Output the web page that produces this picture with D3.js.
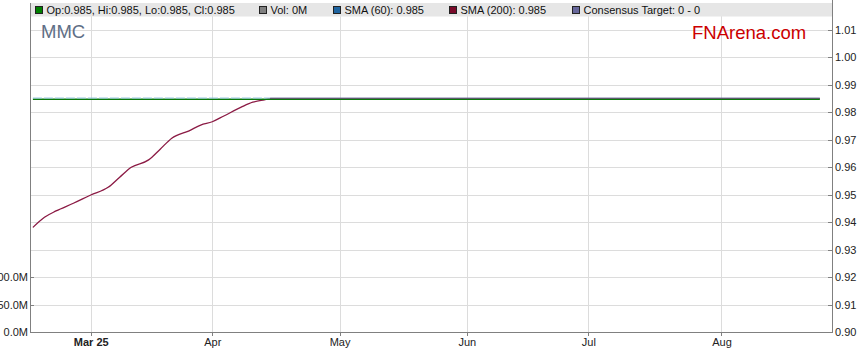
<!DOCTYPE html>
<html>
<head>
<meta charset="utf-8">
<script src="https://cdn.jsdelivr.net/npm/d3@7"></script>
<style>
body { margin: 0; background: #fff; }
svg { display: block; font-family: Arial, "Liberation Sans", sans-serif; }
</style>
</head>
<body>
<div id="chart"></div>
<script>
// trading days (weekdays) shown on the x axis
const firstDay = "2025-02-17", lastDay = "2025-08-26";
const monthTicks = ["2025-03-03", "2025-04-01", "2025-05-01", "2025-06-02", "2025-07-01", "2025-08-01"];
const monthLabels = ["Mar 25", "Apr", "May", "Jun", "Jul", "Aug"];

const priceTicks = [0.90, 0.91, 0.92, 0.93, 0.94, 0.95, 0.96, 0.97, 0.98, 0.99, 1.00, 1.01];
const volTicks = [0, 50e6, 100e6];

// series
const closeDates = ["2025-02-17", "2025-08-26"];
const closeValues = [0.985, 0.985];
const sma60Dates = ["2025-02-17", "2025-04-15"];
const sma60Values = [0.985, 0.985];
const targetDates = ["2025-04-15", "2025-08-26"];
const targetValues = [0.985, 0.985];
const sma200Dates = ["2025-02-17", "2025-02-19", "2025-02-21", "2025-02-26", "2025-03-03", "2025-03-06",
    "2025-03-10", "2025-03-12", "2025-03-17", "2025-03-19", "2025-03-21", "2025-03-26", "2025-03-28",
    "2025-04-01", "2025-04-03", "2025-04-08", "2025-04-10", "2025-04-14", "2025-04-15", "2025-08-26"];
const sma200Values = [0.9381, 0.9418, 0.9441, 0.9469, 0.9499, 0.9527,
    0.9564, 0.9600, 0.9627, 0.9666, 0.9706, 0.9733, 0.9754,
    0.9766, 0.9787, 0.9819, 0.9837, 0.9846, 0.9850, 0.9850];

const legendLabels = ["Op:0.985, Hi:0.985, Lo:0.985, Cl:0.985", "Vol: 0M", "SMA (60): 0.985", "SMA (200): 0.985", "Consensus Target: 0 - 0"];
const legendColors = ["#008000", "#808080", "#1f64a0", "#7a0a2a", "#66669a"];

const width = 859, height = 363;
const margin = {top: 3, right: 27, bottom: 31, left: 30};

const svg = d3.select("#chart").append("svg")
    .attr("width", width)
    .attr("height", height);

const parse = d3.utcParse("%Y-%m-%d");
const fmt = d3.utcFormat("%Y-%m-%d");
const days = d3.utcDay.range(parse(firstDay), d3.utcDay.offset(parse(lastDay), 1))
    .filter(d => d.getUTCDay() % 6 !== 0)
    .map(fmt);
const dayIndex = new Map(days.map((d, i) => [d, i]));

const x = d3.scaleLinear()
    .domain([-0.5, days.length + 1.1])
    .range([margin.left, width - margin.right]);
const y = d3.scaleLinear()
    .domain([0.90, 0.90 + (332 - margin.top) / 2745])
    .range([height - margin.bottom, margin.top]);
const yVol = d3.scaleLinear()
    .domain([0, 100e6 * (332 - margin.top) / 55])
    .range([height - margin.bottom, margin.top]);

const plotW = width - margin.right - margin.left;
const bottom = height - margin.bottom;

// grid
svg.append("g")
    .selectAll("line.h")
    .data(priceTicks)
    .join("line")
    .attr("x1", margin.left).attr("x2", width - margin.right)
    .attr("y1", d => Math.round(y(d)) + 0.5).attr("y2", d => Math.round(y(d)) + 0.5)
    .attr("stroke", "#dcdcdc");
svg.append("g")
    .selectAll("line.v")
    .data(monthTicks)
    .join("line")
    .attr("x1", d => Math.round(x(dayIndex.get(d))) + 0.5).attr("x2", d => Math.round(x(dayIndex.get(d))) + 0.5)
    .attr("y1", margin.top).attr("y2", bottom)
    .attr("stroke", "#dcdcdc");

// lines
const line = d3.line()
    .x(d => x(dayIndex.get(d[0])))
    .y(d => y(d[1]));

svg.append("path")
    .datum(d3.zip(sma200Dates, sma200Values))
    .attr("fill", "none")
    .attr("stroke", "#8b1a44")
    .attr("stroke-width", 1.3)
    .attr("d", line.curve(d3.curveMonotoneX)(d3.zip(sma200Dates, sma200Values)));
line.curve(d3.curveLinear);

svg.append("path")
    .datum(d3.zip(closeDates, closeValues))
    .attr("fill", "none")
    .attr("stroke", "#0a7a0a")
    .attr("stroke-width", 1.4)
    .attr("transform", "translate(0,0.6)")
    .attr("d", line);

svg.append("path")
    .datum(d3.zip(sma60Dates, sma60Values))
    .attr("fill", "none")
    .attr("stroke", "#8cc0dc")
    .attr("stroke-width", 1)
    .attr("stroke-dasharray", "9,2")
    .attr("transform", "translate(0,-0.6)")
    .attr("d", line);

svg.append("path")
    .datum(d3.zip(targetDates, targetValues))
    .attr("fill", "none")
    .attr("stroke", "#6a6a9c")
    .attr("stroke-width", 1)
    .attr("transform", "translate(0,-0.6)")
    .attr("d", line);

// legend bar
svg.append("rect")
    .attr("x", margin.left).attr("y", margin.top)
    .attr("width", plotW).attr("height", 13.5)
    .attr("fill", "#e6e6e6");

const legendX = [35, 259, 333, 449, 572];
const leg = svg.append("g")
    .selectAll("g")
    .data(legendLabels)
    .join("g")
    .attr("transform", (d, i) => `translate(${legendX[i]},0)`);
leg.append("rect")
    .attr("x", 0.5).attr("y", 6.5)
    .attr("width", 7).attr("height", 7)
    .attr("fill", (d, i) => legendColors[i])
    .attr("stroke", "#222")
    .attr("stroke-width", 1);
leg.append("text")
    .attr("x", 11.5).attr("y", 14)
    .attr("font-size", 11)
    .attr("fill", "#111")
    .text(d => d);

// axes frame
svg.append("line")
    .attr("x1", margin.left + 0.5).attr("x2", margin.left + 0.5)
    .attr("y1", margin.top).attr("y2", bottom + 0.5)
    .attr("stroke", "#808080");
svg.append("line")
    .attr("x1", width - margin.right + 0.5).attr("x2", width - margin.right + 0.5)
    .attr("y1", 0).attr("y2", bottom + 0.5)
    .attr("stroke", "#808080");
svg.append("line")
    .attr("x1", margin.left).attr("x2", width - margin.right + 1)
    .attr("y1", bottom + 0.5).attr("y2", bottom + 0.5)
    .attr("stroke", "#808080");

// right price axis
const rightAxis = svg.append("g");
rightAxis.selectAll("line")
    .data(priceTicks)
    .join("line")
    .attr("x1", width - margin.right - 4).attr("x2", width - margin.right + 1)
    .attr("y1", d => Math.round(y(d)) + 0.5).attr("y2", d => Math.round(y(d)) + 0.5)
    .attr("stroke", "#808080");
rightAxis.selectAll("text")
    .data(priceTicks)
    .join("text")
    .attr("x", width - margin.right + 3)
    .attr("y", d => Math.round(y(d)) + 4)
    .attr("font-size", 11)
    .attr("fill", "#222")
    .text(d => d3.format(".2f")(d));

// left volume axis (labels run off the left edge, as in the source)
const leftAxis = svg.append("g");
leftAxis.selectAll("line")
    .data(volTicks)
    .join("line")
    .attr("x1", margin.left).attr("x2", margin.left + 4)
    .attr("y1", d => Math.round(yVol(d)) + 0.5).attr("y2", d => Math.round(yVol(d)) + 0.5)
    .attr("stroke", "#808080");
leftAxis.selectAll("text")
    .data(volTicks)
    .join("text")
    .attr("x", margin.left - 2)
    .attr("y", d => Math.round(yVol(d)) + 4)
    .attr("text-anchor", "end")
    .attr("font-size", 11)
    .attr("fill", "#222")
    .text(d => (d / 1e6).toFixed(1) + "M");

// x axis
const xAxis = svg.append("g");
xAxis.selectAll("line")
    .data(monthTicks)
    .join("line")
    .attr("x1", d => Math.round(x(dayIndex.get(d))) + 0.5).attr("x2", d => Math.round(x(dayIndex.get(d))) + 0.5)
    .attr("y1", bottom).attr("y2", bottom + 4)
    .attr("stroke", "#808080");
xAxis.selectAll("text")
    .data(monthTicks)
    .join("text")
    .attr("x", d => x(dayIndex.get(d)) + 0.5)
    .attr("y", bottom + 14)
    .attr("text-anchor", "middle")
    .attr("font-size", 11)
    .attr("font-weight", (d, i) => i === 0 ? "bold" : "normal")
    .attr("fill", "#222")
    .text((d, i) => monthLabels[i]);

// titles
svg.append("text")
    .attr("x", 41).attr("y", 38)
    .attr("font-size", 18.5)
    .attr("fill", "#5f6f86")
    .text("MMC");
svg.append("text")
    .attr("x", 692).attr("y", 38.5)
    .attr("font-size", 18.5)
    .attr("fill", "#cc0000")
    .text("FNArena.com");
</script>
</body>
</html>
